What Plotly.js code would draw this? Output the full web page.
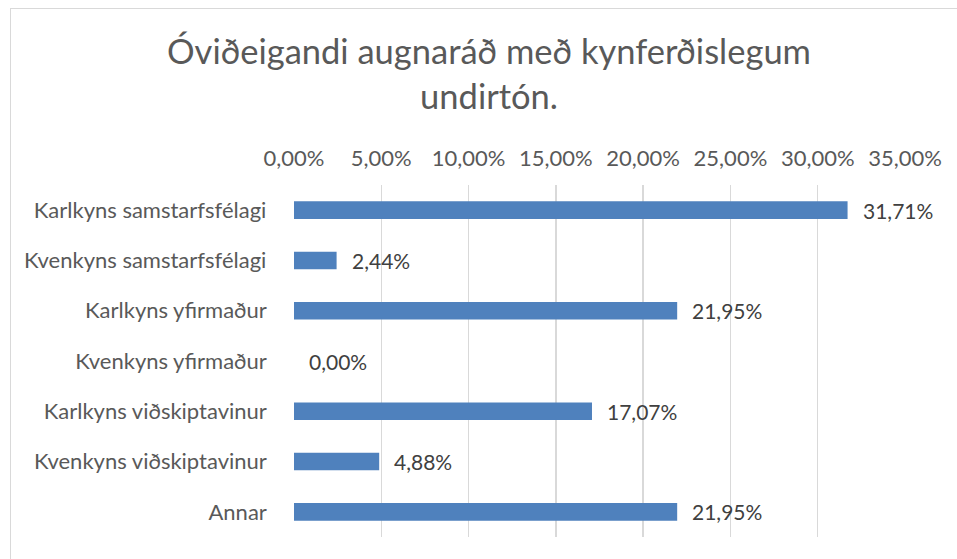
<!DOCTYPE html>
<html>
<head>
<meta charset="utf-8">
<script src="https://cdn.plot.ly/plotly-3.0.1.min.js"></script>
<style>
  html, body { margin: 0; padding: 0; background: #fff; }
  #wrap { position: absolute; left: 0; top: 0; width: 957px; height: 559px; overflow: hidden; }
  #frame { position: absolute; left: 10px; top: 8px; width: 960px; height: 560px;
           border-left: 1.5px solid #d9d9d9; border-top: 1.5px solid #d9d9d9; }
  #chart { position: absolute; left: 0; top: 0; width: 957px; height: 559px; }
</style>
</head>
<body>
<div id="wrap"><div id="frame"></div><div id="chart"></div></div>
<script>
const categories = [
  "Karlkyns samstarfsfélagi",
  "Kvenkyns samstarfsfélagi",
  "Karlkyns yfirmaður",
  "Kvenkyns yfirmaður",
  "Karlkyns viðskiptavinur",
  "Kvenkyns viðskiptavinur",
  "Annar"
];
const values = [0.3171, 0.0244, 0.2195, 0.0000, 0.1707, 0.0488, 0.2195];
const tickVals = [0, 0.05, 0.10, 0.15, 0.20, 0.25, 0.30, 0.35];
const titleText = "Óviðeigandi augnaráð með kynferðislegum<br>undirtón.";

const fmt = v => (v * 100).toFixed(2).replace('.', ',') + '%';
const FONT = "Lato, 'Open Sans', sans-serif";

const trace = {
  type: 'bar',
  orientation: 'h',
  x: values,
  y: categories.map(c => c + ' '),
  marker: { color: '#4F81BD' },
  width: 0.35,
  hoverinfo: 'none'
};

const annotations = values.map((v, i) => ({
  x: v, y: categories[i] + ' ', xref: 'x', yref: 'y',
  text: fmt(v), showarrow: false, xanchor: 'left', yanchor: 'middle',
  xshift: 13, font: { family: FONT, size: 21, color: '#404040' }
}));

const layout = {
  width: 957, height: 559,
  paper_bgcolor: 'rgba(0,0,0,0)', plot_bgcolor: 'rgba(0,0,0,0)',
  margin: { l: 294, r: 52, t: 185, b: 22, pad: 0 },
  separators: ', ',
  title: {
    text: titleText, x: 0.511, xanchor: 'center', y: 0.886, yanchor: 'middle',
    font: { family: FONT, size: 34.5, color: '#595959' }
  },
  showlegend: false,
  xaxis: {
    side: 'top', range: [0, 0.35], tickvals: tickVals,
    ticktext: tickVals.map(fmt),
    showgrid: true, gridcolor: '#d9d9d9', gridwidth: 1.5,
    zeroline: false, showline: false, ticks: '',
    ticklabelstandoff: 14,
    tickfont: { family: FONT, size: 22, color: '#595959' },
    fixedrange: true
  },
  yaxis: {
    autorange: 'reversed', type: 'category',
    showgrid: false, zeroline: false, showline: false, ticks: '',
    ticklabelstandoff: 21,
    tickfont: { family: FONT, size: 22, color: '#595959' },
    fixedrange: true
  },
  annotations: annotations
};

Plotly.newPlot('chart', [trace], layout, { displayModeBar: false, staticPlot: true });
</script>
</body>
</html>
